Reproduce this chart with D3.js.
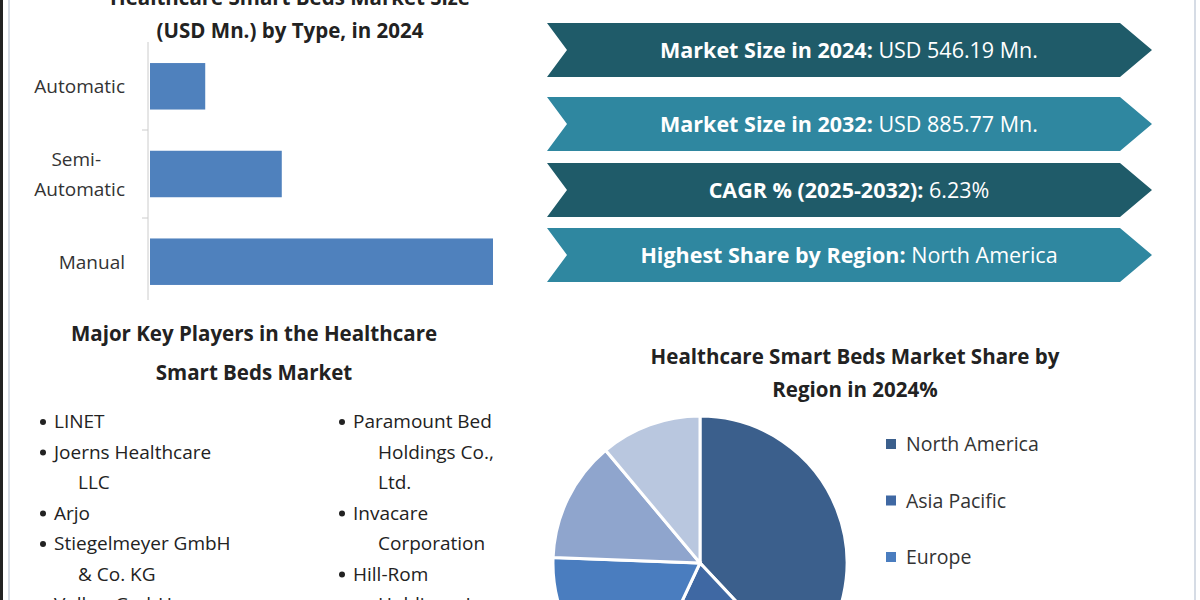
<!DOCTYPE html>
<html><head><meta charset="utf-8">
<script src="https://cdn.jsdelivr.net/npm/d3@7"></script>
<style>body{margin:0;background:#fff;overflow:hidden}svg{display:block;font-family:"Open Sans",sans-serif}</style>
</head><body><svg id="c" width="1200" height="600"></svg>
<script>
const types=["Automatic","Semi-Automatic","Manual"];
const typeValues=[57,136,354];
const bannerLabels=["Market Size in 2024:","Market Size in 2032:","CAGR % (2025-2032):","Highest Share by Region:"];
const bannerValues=["USD 546.19 Mn.","USD 885.77 Mn.","6.23%","North America"];
const regions=["North America","Asia Pacific","Europe","Middle East and Africa","South America"];
const regionShares=[38,19,18.6,13.3,11.1];
const playersLeft=[["LINET"],["Joerns Healthcare","LLC"],["Arjo"],["Stiegelmeyer GmbH","& Co. KG"],["Volker GmbH"]];
const playersRight=[["Paramount Bed","Holdings Co.,","Ltd."],["Invacare","Corporation"],["Hill-Rom","Holdings, Inc."]];

const svg=d3.select("#c");
svg.append("rect").attr("x",0).attr("y",0).attr("width",3).attr("height",600).attr("fill","#222");
svg.append("line").attr("x1",9).attr("x2",9).attr("y1",0).attr("y2",600).attr("stroke","#c8d0dc").attr("stroke-width",1.5);
svg.append("line").attr("x1",1195).attr("x2",1195).attr("y1",0).attr("y2",600).attr("stroke","#c8d0dc").attr("stroke-width",1.5);

// Bar chart
const tt=svg.append("text").attr("text-anchor","middle").attr("font-weight","bold").attr("font-size",20.5).attr("fill","#222");
tt.append("tspan").attr("x",290).attr("y",5).text("Healthcare Smart Beds Market Size");
tt.append("tspan").attr("x",290).attr("y",38).text("(USD Mn.) by Type, in 2024");
const x=d3.scaleLinear().domain([0,354]).range([150,493]);
const y=d3.scaleBand().domain(types).range([42,306]).paddingInner(0.47).paddingOuter(0.24);
svg.selectAll("rect.bar").data(types).join("rect").attr("class","bar")
 .attr("x",x(0)).attr("y",d=>y(d)).attr("width",(d,i)=>x(typeValues[i])-x(0)).attr("height",y.bandwidth()).attr("fill","#4f81bd");
svg.append("line").attr("x1",148).attr("x2",148).attr("y1",42).attr("y2",300).attr("stroke","#ccc");
[130,218].forEach(v=>svg.append("line").attr("x1",142).attr("x2",148).attr("y1",v).attr("y2",v).attr("stroke","#ccc"));
types.forEach(t=>{
  const cy=y(t)+y.bandwidth()/2;
  const g=svg.append("text").attr("text-anchor","end").attr("font-size",19).attr("fill","#333");
  if(t==="Semi-Automatic"){
    g.append("tspan").attr("x",101).attr("y",cy-8).text("Semi-");
    g.append("tspan").attr("x",125).attr("y",cy+22).text("Automatic");
  } else g.append("tspan").attr("x",125).attr("y",cy+7).text(t);
});

// Banners
const by=[23,97,163,228], bc=["#1f5b69","#2f87a0","#1f5b69","#2f87a0"];
by.forEach((t,i)=>{
  const h=54,l=547,r=1120,tip=1152;
  svg.append("path").attr("d",`M${l},${t}L${r},${t}L${tip},${t+h/2}L${r},${t+h}L${l},${t+h}L${l+20},${t+h/2}Z`).attr("fill",bc[i]);
  const tx=svg.append("text").attr("x",849).attr("y",t+h/2+8).attr("text-anchor","middle").attr("font-size",21.5).attr("fill","#fff");
  tx.append("tspan").attr("font-weight","bold").text(bannerLabels[i]+" ");
  tx.append("tspan").text(bannerValues[i]);
});

// Key players
const kt=svg.append("text").attr("text-anchor","middle").attr("font-weight","bold").attr("font-size",20.5).attr("fill","#222");
kt.append("tspan").attr("x",254).attr("y",341).text("Major Key Players in the Healthcare");
kt.append("tspan").attr("x",254).attr("y",380).text("Smart Beds Market");
function list(items,bx,tx0,tx1){
  let yy=428;
  items.forEach(lines=>{
    svg.append("circle").attr("cx",bx).attr("cy",yy-6).attr("r",3).attr("fill","#222");
    lines.forEach((s,j)=>{
      svg.append("text").attr("x",j?tx1:tx0).attr("y",yy).attr("font-size",19).attr("fill","#222").text(s);
      yy+=30.5;
    });
  });
}
list(playersLeft,43,54,78);
list(playersRight,342,353,378);

// Pie
const pt=svg.append("text").attr("text-anchor","middle").attr("font-weight","bold").attr("font-size",20.5).attr("fill","#222");
pt.append("tspan").attr("x",855).attr("y",364).text("Healthcare Smart Beds Market Share by");
pt.append("tspan").attr("x",855).attr("y",397).text("Region in 2024%");
const pc=["#3b5f8c","#3f68a3","#4a7dbf","#8fa5cd","#b9c7df"];
const pie=d3.pie().sort(null).value(d=>d)(regionShares);
const arc=d3.arc().innerRadius(0).outerRadius(147);
svg.append("g").attr("transform","translate(700,563)").selectAll("path").data(pie).join("path")
 .attr("d",arc).attr("fill",(d,i)=>pc[i]).attr("stroke","#fff").attr("stroke-width",3);
regions.slice(0,3).forEach((r,i)=>{
  const yy=451+i*56.5;
  svg.append("rect").attr("x",886).attr("y",yy-12).attr("width",10).attr("height",10).attr("fill",pc[i]);
  svg.append("text").attr("x",906).attr("y",yy).attr("font-size",19.5).attr("fill","#333").text(r);
});
</script></body></html>
